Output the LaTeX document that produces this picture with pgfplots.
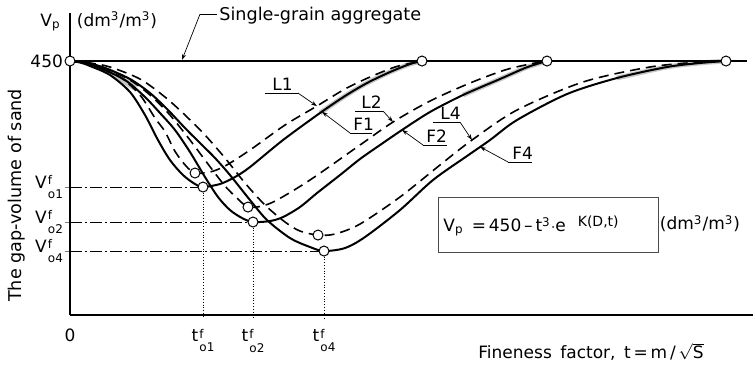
\documentclass[border=0pt]{standalone}
\usepackage{pgfplots}
\pgfplotsset{compat=1.18}
\usepackage{amsmath}
\usepackage{fontspec}
\setmainfont{DejaVu Sans}
\usetikzlibrary{arrows.meta}
\newcommand{\tlab}[1]{t\hspace{0.6pt}\raisebox{-1.1ex}{\fontsize{6}{6}\selectfont\shortstack[l]{f\\[-0.5pt]#1}}}
\newcommand{\vlab}[1]{V\hspace{0.6pt}\raisebox{-1.1ex}{\fontsize{6}{6}\selectfont\shortstack[l]{f\\[-0.5pt]#1}}}
\begin{document}
\begin{tikzpicture}[font=\fontsize{8.5}{10}\selectfont]
\begin{axis}[
  width=341.5pt, height=151pt, scale only axis,
  xmin=0, xmax=683, ymin=0, ymax=535,
  axis x line=bottom, axis y line=left,
  axis line style={-, line width=0.6pt},
  clip=false,
  xtick={0,133,183,254},
  xticklabels={0, {\tlab{o1}}, {\tlab{o2}}, {\tlab{o4}}},
  ytick={113.4,164.8,226.8,450},
  yticklabels={{\vlab{o4}}, {\vlab{o2}}, {\vlab{o1}}, 450},
  xtick style={draw=none},
  ytick style={line width=0.5pt},
  tick align=outside,
  major tick length=2.5pt,
  ticklabel style={font=\fontsize{8.5}{10}\selectfont},
  xticklabel style={yshift=-1pt},
  yticklabel style={xshift=2.5pt},
]
\coordinate (bl) at (axis cs:-70,-86.8);
\coordinate (tr) at (axis cs:685,558.1);

% shaded wedge at the origin
\addplot[fill=gray!45, draw=none] coordinates {(0,450)(20,441.2)(40,425.2)(55,407.5)(63,398.6)(68,407.5)(60,419.9)(40,437.6)(20,446.5)(0,450)};

% gray halo near the ends
\addplot[gray!45, line width=2.4pt, smooth] coordinates {(250,357.9)(275,388.0)(297,411.0)(320,430.5)(340,444.7)(352,450)};
\addplot[gray!45, line width=2.4pt, smooth] coordinates {(393,389.8)(430,418.1)(455,437.6)(470,446.5)(477,450)};
\addplot[gray!45, line width=2.4pt, smooth] coordinates {(547,419.9)(597,439.4)(630,446.5)(656,450)};

% single-grain aggregate
\addplot[line width=1.3pt] coordinates {(0,450)(677,450)};

% reference lines
\addplot[line width=0.4pt, dash pattern=on 6pt off 1.5pt on 1pt off 1.5pt] coordinates {(0,226.8)(133,226.8)};
\addplot[line width=0.4pt, dash pattern=on 6pt off 1.5pt on 1pt off 1.5pt] coordinates {(0,164.8)(183,164.8)};
\addplot[line width=0.4pt, dash pattern=on 6pt off 1.5pt on 1pt off 1.5pt] coordinates {(0,113.4)(254,113.4)};
\addplot[line width=0.4pt, densely dotted] coordinates {(133,226.8)(133,-6)};
\addplot[line width=0.4pt, densely dotted] coordinates {(183,164.8)(183,-6)};
\addplot[line width=0.4pt, densely dotted] coordinates {(254,113.4)(254,-6)};

% F1
\addplot[line width=1pt, smooth, tension=0.5] coordinates {(0,450)(10,447.5)(20,441.2)(40,425.2)(60,395.1)(75,354.3)(88,310.0)(100,274.6)(113,248.0)(125,232.1)(133,226.8)(150,232.1)(165,244.5)(180,262.2)(213,310.0)(250,357.9)(275,388.0)(297,411.0)(320,430.5)(340,444.7)(352,450)};
% L1
\addplot[line width=0.8pt, dash pattern=on 5pt off 3pt, smooth, tension=0.5] coordinates {(0,450)(12,447.5)(25,441.2)(50,421.7)(70,389.8)(85,349.0)(95,325)(105,290)(116,264)(125,251.6)(140,253.4)(155,264.0)(180,292.3)(215,336.6)(247,370.3)(275,400.4)(300,421.7)(325,439.4)(342,446.5)(352,450)};
% F2
\addplot[line width=1pt, smooth, tension=0.5] coordinates {(0,450)(15,446.5)(30,437.6)(55,416.3)(75,386.2)(90,357.9)(105,327.8)(120,288.8)(135,244.5)(148,209.1)(160,186.0)(172,171.9)(183,164.8)(200,166.5)(213,173.6)(230,191.3)(247,216.1)(270,248.0)(290,276.4)(310,301.2)(332,327.8)(360,359.7)(393,389.8)(430,418.1)(455,437.6)(470,446.5)(477,450)};
% L2
\addplot[line width=0.8pt, dash pattern=on 5pt off 3pt, smooth, tension=0.5] coordinates {(0,450)(18,446.5)(35,437.6)(60,416.3)(80,389.8)(100,354.3)(120,310.0)(138,267.5)(155,228.6)(168,205.5)(178,191.3)(192,193.1)(207,203.7)(240,239.2)(290,301.2)(323,341.9)(360,379.1)(400,411.0)(435,434.1)(460,444.7)(477,450)};
% F4
\addplot[line width=1pt, smooth, tension=0.5] coordinates {(0,450)(18,446.5)(35,437.6)(60,418.1)(80,393.3)(98,363.2)(115,331.3)(130,304.7)(145,278.2)(160,248.0)(180,203.7)(197,168.3)(220,136.4)(240,120.5)(254,113.4)(275,118.7)(295,138.2)(330,186.0)(363,239.2)(397,281.7)(420,310.0)(447,345.5)(497,391.5)(547,419.9)(597,439.4)(630,446.5)(656,450)};
% L4
\addplot[line width=0.8pt, dash pattern=on 5pt off 3pt, smooth, tension=0.5] coordinates {(0,450)(20,446.5)(40,439.4)(70,418.1)(95,386.2)(115,354.3)(135,318.9)(155,278.2)(175,233.9)(195,194.9)(215,164.8)(230,148.8)(248,141.7)(265,143.5)(290,161.2)(330,209.1)(370,265.8)(402,310.0)(447,363.2)(513,412.8)(580,439.4)(630,448.2)(656,450)};

% circles
\addplot[only marks, mark=*, mark size=2.5pt, mark options={fill=white, draw=black, line width=0.5pt}] coordinates {(0,450)(352,450)(477,450)(656,450)(133,226.8)(125,251.6)(183,164.8)(178,191.3)(254,113.4)(248,141.7)};

% curve labels
\draw[line width=0.35pt] (axis cs:195,393.3) -- (axis cs:228,393.3);
\draw[line width=0.35pt, -{Stealth[length=3pt,width=2pt]}] (axis cs:228,393.3) -- (axis cs:247,370);
\node[anchor=south west, inner sep=1pt] at (axis cs:200,393.3) {L1};
\draw[line width=0.35pt] (axis cs:280,322.5) -- (axis cs:302,322.5);
\draw[line width=0.35pt, -{Stealth[length=3pt,width=2pt]}] (axis cs:280,322.5) -- (axis cs:252,360);
\node[anchor=south west, inner sep=1pt] at (axis cs:281,322.5) {F1};
\draw[line width=0.35pt] (axis cs:285,361.4) -- (axis cs:313,361.4);
\draw[line width=0.35pt, -{Stealth[length=3pt,width=2pt]}] (axis cs:313,361.4) -- (axis cs:323,342);
\node[anchor=south west, inner sep=1pt] at (axis cs:289,361.4) {L2};
\draw[line width=0.35pt] (axis cs:353,301.2) -- (axis cs:377,301.2);
\draw[line width=0.35pt, -{Stealth[length=3pt,width=2pt]}] (axis cs:353,301.2) -- (axis cs:332,328);
\node[anchor=south west, inner sep=1pt] at (axis cs:354,301.2) {F2};
\draw[line width=0.35pt] (axis cs:363,341.9) -- (axis cs:390,341.9);
\draw[line width=0.35pt, -{Stealth[length=3pt,width=2pt]}] (axis cs:390,341.9) -- (axis cs:402,310);
\node[anchor=south west, inner sep=1pt] at (axis cs:368,341.9) {L4};
\draw[line width=0.35pt] (axis cs:438,271.1) -- (axis cs:462,271.1);
\draw[line width=0.35pt, -{Stealth[length=3pt,width=2pt]}] (axis cs:438,271.1) -- (axis cs:410,298);
\node[anchor=south west, inner sep=1pt] at (axis cs:440,271.1) {F4};

% single-grain label
\draw[line width=0.35pt] (axis cs:147,533) -- (axis cs:130,533);
\draw[line width=0.35pt, -{Stealth[length=3pt,width=2pt]}] (axis cs:130,533) -- (axis cs:112,452);
\node[anchor=west, inner sep=1pt, font=\fontsize{8.8}{10}\selectfont] at (axis cs:147,531) {Single-grain aggregate};

% axis captions
\node[anchor=east, inner sep=0pt] at (axis cs:-9,519) {V\textsubscript{p}};
\node[anchor=center] at (axis cs:47,522) {(dm\textsuperscript{3}/m\textsuperscript{3})};
\node[rotate=90, font=\fontsize{8.8}{10}\selectfont] at (axis cs:-53,212) {The gap-volume of sand};
\node[font=\fontsize{8.5}{10}\selectfont] at (axis cs:521,-65) {Fineness\enspace factor,\enspace t\,=\,m\,/\,$\sqrt{\mbox{S}}$};

% formula box
\draw[line width=0.4pt, gray!60!black] (axis cs:368,209.1) rectangle (axis cs:588,111.6);
\node[anchor=west, inner sep=0pt] at (axis cs:373,158) {V\textsubscript{p}\ \,=\,450\,–\,t\textsuperscript{3}$\cdot$e\textsuperscript{\hspace{1em}\scriptsize K(D,t)}};
\node[anchor=center] at (axis cs:630,162) {(dm\textsuperscript{3}/m\textsuperscript{3})};
\end{axis}
\pgfresetboundingbox
\useasboundingbox (bl) rectangle (tr);
\end{tikzpicture}
\end{document}
